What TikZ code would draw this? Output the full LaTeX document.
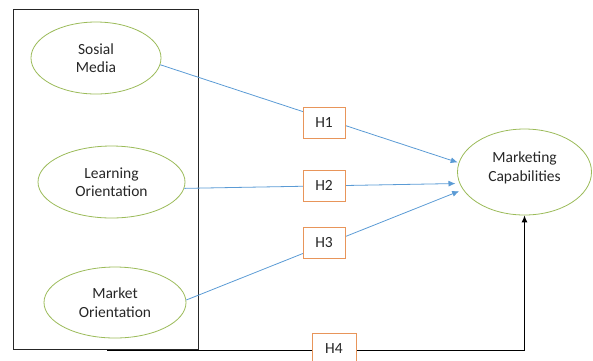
\documentclass[tikz,border=0pt]{standalone}
\usepackage{fontspec}
\setmainfont{Carlito}
\usetikzlibrary{shapes.geometric,arrows.meta}
\definecolor{ovalgreen}{HTML}{9BBB59}
\definecolor{linkblue}{HTML}{5B9BD5}
\definecolor{hypoorange}{HTML}{E8955A}
\begin{document}
\begin{tikzpicture}[x=1pt,y=-1pt,
  construct/.style={draw=ovalgreen,ellipse,line width=0.8pt,inner sep=0pt,
    align=center,text=black!85,font=\fontsize{15.5}{18.5}\selectfont},
  link/.style={draw=linkblue,line width=0.8pt,-{Latex[length=7pt,width=6pt]}},
  hypbox/.style={draw=hypoorange,fill=white,line width=0.8pt,minimum width=42,
    minimum height=31,inner sep=0pt,text=black!85,font=\fontsize{15.5}{18.5}\selectfont}]
  \useasboundingbox (0,0) rectangle (593,360);
  \draw[line width=1pt,black!85] (13,9) rectangle (198,349);
  \node[construct,minimum width=130,minimum height=72] (sm) at (96,58) {Sosial\\Media};
  \node[construct,minimum width=147,minimum height=72] (lo) at (111.5,182) {Learning\\Orientation};
  \node[construct,minimum width=142,minimum height=71] (mo) at (115,302.5) {Market\\Orientation};
  \node[construct,minimum width=134,minimum height=86] (mc) at (524.5,172) {Marketing\\Capabilities\\[-8pt]};
  \draw[link,shorten >=1pt] (sm.-6) -- (mc.172);
  \draw[link,shorten >=4pt] (lo.-5) -- (mc.190);
  \draw[link,shorten >=4pt] (mo.2) -- (mc.196);
  \node[hypbox] (h1) at (324,122.5) {H1};
  \node[hypbox] (h2) at (324,185.5) {H2};
  \node[hypbox] (h3) at (324,243) {H3};
  \coordinate (h4start) at (107,350);
  \draw[line width=0.9pt,-{Latex[length=7pt,width=6pt]}] (h4start) -| (mc.south);
  \node[hypbox,minimum width=44,minimum height=32] (h4) at (334,349) {H4};
\end{tikzpicture}
\end{document}
